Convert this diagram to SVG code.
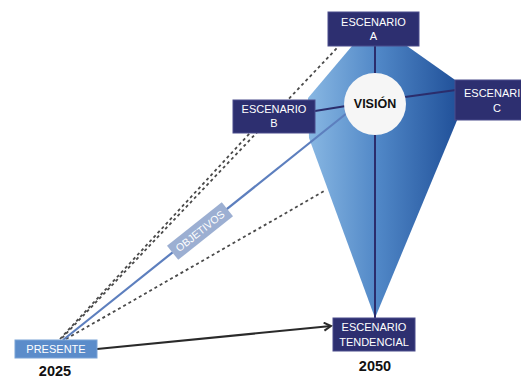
<svg xmlns="http://www.w3.org/2000/svg" width="521" height="379" viewBox="0 0 521 379">
<defs>
<linearGradient id="kite" x1="300" y1="0" x2="460" y2="0" gradientUnits="userSpaceOnUse">
<stop offset="0" stop-color="#8fbde6"/>
<stop offset="0.5" stop-color="#4f86c6"/>
<stop offset="1" stop-color="#1f4f98"/>
</linearGradient>
<marker id="ahBlue" markerWidth="10" markerHeight="10" refX="8" refY="5" orient="auto" markerUnits="userSpaceOnUse">
<path d="M1,1 L8,5 L1,9" fill="none" stroke="#5d7fbe" stroke-width="2"/>
</marker>
<marker id="ahBlack" markerWidth="10" markerHeight="10" refX="8" refY="5" orient="auto" markerUnits="userSpaceOnUse">
<path d="M1,1 L8,5 L1,9" fill="none" stroke="#2a2a2a" stroke-width="2"/>
</marker>
<style>
.box{fill:#2d2f70;stroke:#4b4d8c;stroke-width:1}
.bt{font-family:"Liberation Sans",Arial,sans-serif;font-size:11px;fill:#ffffff;text-anchor:middle}
.bts{font-family:"Liberation Sans",Arial,sans-serif;font-size:11px;fill:#ffffff;text-anchor:start}
.nav{stroke:#2b2d6c;stroke-width:2;fill:none}
.dash{stroke:#4a4a4a;stroke-width:1.8;stroke-dasharray:3 3;fill:none}
.year{font-family:"Liberation Sans",Arial,sans-serif;font-size:14.5px;font-weight:bold;fill:#111111;text-anchor:middle}
</style>
</defs>
<rect width="521" height="379" fill="#ffffff"/>
<g id="kite-shape">
<polygon points="352,46 308,98 309,138 375,318 458,118 458,82 407,46" fill="url(#kite)"/>
</g>
<g id="connectors">
<line class="dash" x1="62" y1="338" x2="337" y2="48"/>
<line class="dash" x1="60" y1="339" x2="250" y2="133"/>
<line class="dash" x1="66" y1="339" x2="326" y2="190"/>
<line class="nav" x1="375" y1="46" x2="375" y2="318"/>
<line class="nav" x1="315" y1="111" x2="346" y2="106"/>
<line class="nav" x1="405" y1="97" x2="456" y2="90"/>
<line x1="63" y1="340" x2="352" y2="109" stroke="#5d7fbe" stroke-width="2.2" marker-end="url(#ahBlue)"/>
<line x1="97" y1="349" x2="331" y2="326" stroke="#2a2a2a" stroke-width="2" marker-end="url(#ahBlack)"/>
</g>
<g id="objetivos">
<g transform="translate(200,231) rotate(-38.5)">
<rect x="-35" y="-9" width="70" height="18" fill="#9cafd2"/>
<text x="0" y="3.8" font-family="'Liberation Sans',Arial,sans-serif" font-size="10.5" fill="#ffffff" text-anchor="middle">OBJETIVOS</text>
</g>
</g>
<g id="escenario-a">
<rect class="box" x="328" y="12" width="91" height="34"/>
<text class="bt" x="373.5" y="26">ESCENARIO</text>
<text class="bt" x="373.5" y="40">A</text>
</g>
<g id="escenario-b">
<rect class="box" x="233" y="100" width="82" height="33"/>
<text class="bt" x="274" y="113">ESCENARIO</text>
<text class="bt" x="274" y="127">B</text>
</g>
<g id="escenario-c">
<rect class="box" x="455" y="80" width="70" height="40"/>
<text class="bts" x="464" y="97">ESCENARI</text>
<text class="bt" x="497" y="112">C</text>
</g>
<g id="vision">
<circle cx="375" cy="104" r="31" fill="#f6f6f6"/>
<text x="375" y="108" font-family="'Liberation Sans',Arial,sans-serif" font-size="12.5" font-weight="bold" fill="#111111" text-anchor="middle">VISIÓN</text>
</g>
<g id="escenario-tendencial">
<rect class="box" x="333" y="318" width="82" height="33"/>
<text class="bt" x="374" y="331">ESCENARIO</text>
<text class="bt" x="374" y="346">TENDENCIAL</text>
<text class="year" x="375" y="371">2050</text>
</g>
<g id="presente">
<rect x="15" y="340" width="82" height="18" fill="#5b8cca" stroke="#7aa3d6" stroke-width="1"/>
<text class="bt" x="56" y="353">PRESENTE</text>
<text class="year" x="55" y="376">2025</text>
</g>
</svg>
